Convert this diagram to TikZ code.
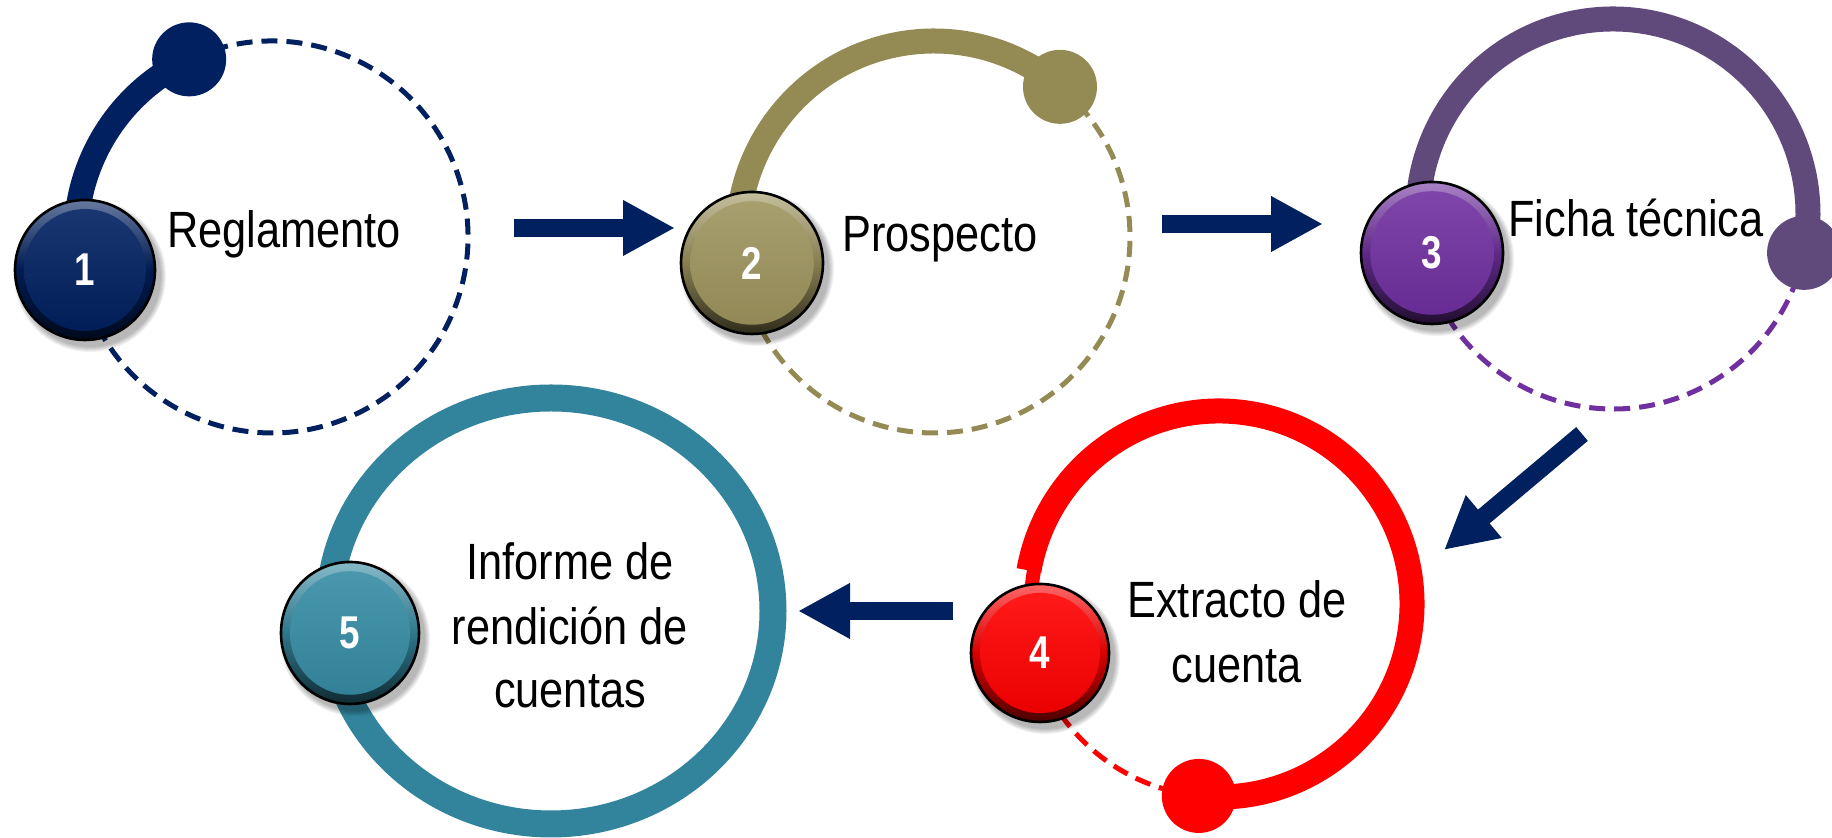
\documentclass[tikz,border=0pt]{standalone}
\usepackage{fontspec}
\setmainfont{Liberation Sans}
\newfontfamily\lblfont{Liberation Sans}[FakeStretch=0.85]
\newfontfamily\numfont{Liberation Sans}[FakeStretch=0.8]
\usetikzlibrary{arrows.meta,calc}
\definecolor{navy}{RGB}{0,32,96}
\definecolor{olive}{RGB}{148,138,84}
\definecolor{olivebadge}{RGB}{158,148,94}
\definecolor{purplering}{RGB}{96,74,123}
\definecolor{purplebadge}{RGB}{112,48,160}
\definecolor{redring}{RGB}{255,0,0}
\definecolor{tealring}{RGB}{49,132,155}
\definecolor{tealbadge}{RGB}{54,140,164}
\newcommand\mybadge[6]{%
  \foreach \k in {1,...,6}{\fill[black, opacity=0.05] ($#2+(5,-6)$) ellipse[x radius=#3+\k, y radius=#4+\k];}
  \shade[top color=#5!60!white, bottom color=#5!30!black, middle color=#5!85!black] #2 ellipse[x radius=#3, y radius=#4];
  \shade[top color=#5!90!white, bottom color=#5!92!black] #2 ellipse[x radius=0.87*#3, y radius=0.87*#4];
  \draw[black, line width=1.3pt] #2 ellipse[x radius=#3, y radius=#4];
  \node[num] (#1) at #2 {#6};
}
\begin{document}
\begin{tikzpicture}[x=0.5pt,y=0.5pt,
  solidarc/.style={line width=12.5pt, line cap=butt},
  dasharc/.style={line width=2.5pt, dash pattern=on 8pt off 4.5pt},
  lbl/.style={font=\lblfont\fontsize{25.5pt}{32pt}\selectfont, text=black, inner sep=0pt},
  num/.style={font=\numfont\bfseries\fontsize{23pt}{23pt}\selectfont, text=white, inner sep=0pt},
  blockarrow/.style={draw=navy, line width=9pt, -{Triangle[length=26pt,width=26pt]}}]
\useasboundingbox (0,0) rectangle (1832,838);
\fill[white] (0,0) rectangle (1832,838);

% centres
\coordinate (c1) at (272,601);
\coordinate (c2) at (934,601);
\coordinate (c3) at (1613,624);
\coordinate (c4) at (1219,234);
\coordinate (c5) at (551,227);

% group 1
\draw[navy, dasharc] ($(c1)+(115:196)$) arc[start angle=115, end angle=-165, radius=196];
\draw[navy, solidarc] ($(c1)+(190:196)$) arc[start angle=190, end angle=115, radius=196];
\fill[navy] ($(c1)+(115:196)$) circle[radius=37];

% group 2
\draw[olive, dasharc] ($(c2)+(50:196)$) arc[start angle=50, end angle=-165, radius=196];
\draw[olive, solidarc] ($(c2)+(190:196)$) arc[start angle=190, end angle=50, radius=196];
\fill[olive] ($(c2)+(50:196)$) circle[radius=37];

% group 3
\draw[purplebadge, dasharc] ($(c3)+(-11.5:195)$) arc[start angle=-11.5, end angle=-165, radius=195];
\draw[purplering, solidarc] ($(c3)+(190:195)$) arc[start angle=190, end angle=-11.5, radius=195];
\fill[purplering] ($(c3)+(-11.5:195)$) circle[radius=37];

% group 4
\draw[redring, dasharc] ($(c4)+(264:193)$) arc[start angle=264, end angle=200, radius=193];
\draw[redring, solidarc] ($(c4)+(170:193)$) arc[start angle=170, end angle=-96, radius=193];
\draw[redring, line width=7pt] ($(c4)+(192:188)$) arc[start angle=192, end angle=169, radius=188];
\fill[redring] ($(c4)+(-96:193)$) circle[radius=37];

% group 5
\draw[tealring, line width=13.5pt] (c5) ellipse[x radius=222, y radius=213];

% badges
\mybadge{b1}{(85,568)}{70}{70}{navy}{1}
\mybadge{b2}{(752,575)}{71}{71}{olivebadge}{2}
\mybadge{b3}{(1432,585)}{71}{71}{purplebadge}{3}
\mybadge{b4}{(1040,185)}{69}{69}{redring}{4}
\mybadge{b5}{(350,205)}{69}{71}{tealbadge}{5}

% labels
\node[lbl, anchor=base west] (t1) at (167,590) {Reglamento};
\node[lbl, anchor=base west] (t2) at (842,586) {Prospecto};
\node[lbl, anchor=base west] (t3) at (1508,601) {Ficha técnica};
\node[lbl, anchor=base] (t4a) at (1237,220) {Extracto de};
\node[lbl, anchor=base] (t4b) at (1237,155) {cuenta};
\node[lbl, anchor=base] (t5a) at (570,258) {Informe de};
\node[lbl, anchor=base] (t5b) at (570,193) {rendición de};
\node[lbl, anchor=base] (t5c) at (570,130) {cuentas};

% arrows
\coordinate (a1s) at (514,610); \coordinate (a1e) at (675,610);
\coordinate (a2s) at (1162,614); \coordinate (a2e) at (1323,614);
\coordinate (a3s) at (1582,404); \coordinate (a3e) at (1444,288);
\coordinate (a4s) at (953,227); \coordinate (a4e) at (798,227);
\draw[blockarrow] (a1s) -- (a1e);
\draw[blockarrow] (a2s) -- (a2e);
\draw[blockarrow] (a3s) -- (a3e);
\draw[blockarrow] (a4s) -- (a4e);
\end{tikzpicture}
\end{document}
